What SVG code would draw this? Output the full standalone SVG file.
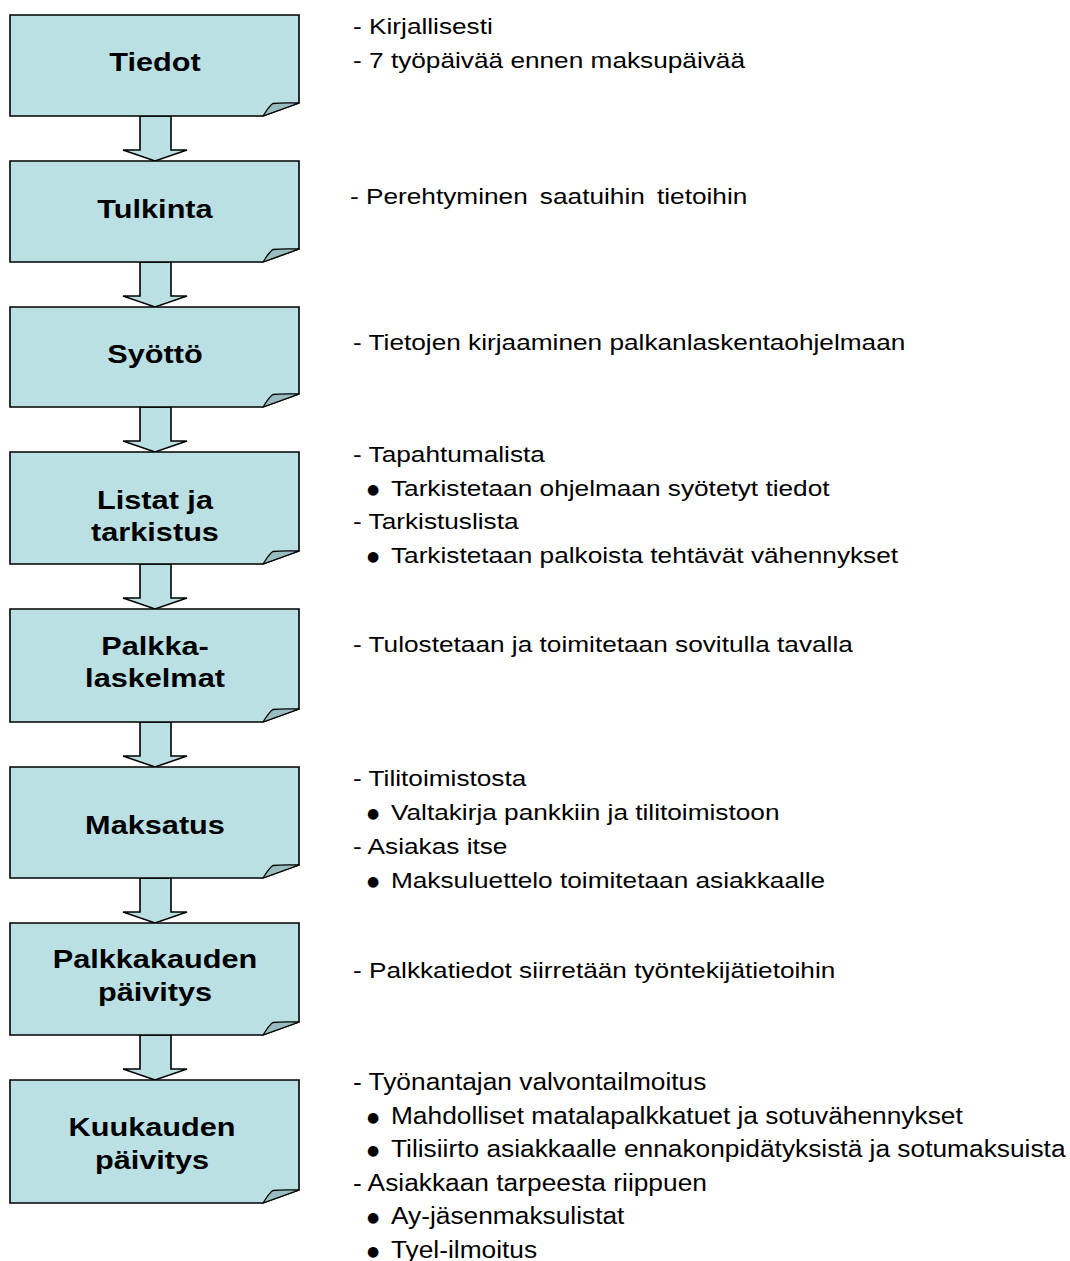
<svg xmlns="http://www.w3.org/2000/svg" width="1070" height="1261" viewBox="0 0 1070 1261">
<style>
.box{fill:#bbe0e3;stroke:#000;stroke-width:1.6;stroke-linejoin:miter}
.flap{fill:#98bcbf;stroke:#000;stroke-width:1.3;stroke-linejoin:round}
.arrow{fill:#bbe0e3;stroke:#000;stroke-width:1.6;stroke-linejoin:miter}
.lbl{font-family:"Liberation Sans",Arial,sans-serif;font-weight:bold;font-size:26px;fill:#000;text-anchor:middle}
.note{font-family:"Liberation Sans",Arial,sans-serif;font-size:21.5px;fill:#000}
.note2{font-family:"Liberation Sans",Arial,sans-serif;font-size:23.5px;fill:#000}
.bul{font-family:"DejaVu Sans",sans-serif;font-size:14px;fill:#000;text-anchor:middle}
</style>
<rect width="1070" height="1261" fill="#fff"/>
<g id="connectors">
<polygon class="arrow" points="140,116 171,116 171,150 187,150 155,161 123,150 140,150"/>
<polygon class="arrow" points="140,262 171,262 171,296 187,296 155,307 123,296 140,296"/>
<polygon class="arrow" points="140,407 171,407 171,441 187,441 155,452 123,441 140,441"/>
<polygon class="arrow" points="140,564 171,564 171,598 187,598 155,609 123,598 140,598"/>
<polygon class="arrow" points="140,722 171,722 171,756 187,756 155,767 123,756 140,756"/>
<polygon class="arrow" points="140,878 171,878 171,912 187,912 155,923 123,912 140,912"/>
<polygon class="arrow" points="140,1035 171,1035 171,1069 187,1069 155,1080 123,1069 140,1069"/>
</g>
<g id="node-tiedot">
<path class="box" d="M10,15 H299 V103 L263,116 H10 Z"/>
<path class="flap" d="M263,116 C267,110 269,106 273,103.5 C282,102.5 290,103 299,103 Z"/>
<g transform="translate(155 0) scale(1.18 1)"><text class="lbl" x="0" y="71">Tiedot</text></g>
</g>
<g id="node-tulkinta">
<path class="box" d="M10,161 H299 V249 L263,262 H10 Z"/>
<path class="flap" d="M263,262 C267,256 269,252 273,249.5 C282,248.5 290,249 299,249 Z"/>
<g transform="translate(155 0) scale(1.18 1)"><text class="lbl" x="0" y="218">Tulkinta</text></g>
</g>
<g id="node-syotto">
<path class="box" d="M10,307 H299 V394 L263,407 H10 Z"/>
<path class="flap" d="M263,407 C267,401 269,397 273,394.5 C282,393.5 290,394 299,394 Z"/>
<g transform="translate(155 0) scale(1.18 1)"><text class="lbl" x="0" y="363">Syöttö</text></g>
</g>
<g id="node-listat">
<path class="box" d="M10,452 H299 V551 L263,564 H10 Z"/>
<path class="flap" d="M263,564 C267,558 269,554 273,551.5 C282,550.5 290,551 299,551 Z"/>
<g transform="translate(155 0) scale(1.18 1)"><text class="lbl" x="0" y="509">Listat ja</text><text class="lbl" x="0" y="541">tarkistus</text></g>
</g>
<g id="node-palkkalaskelmat">
<path class="box" d="M10,609 H299 V709 L263,722 H10 Z"/>
<path class="flap" d="M263,722 C267,716 269,712 273,709.5 C282,708.5 290,709 299,709 Z"/>
<g transform="translate(155 0) scale(1.18 1)"><text class="lbl" x="0" y="655">Palkka-</text><text class="lbl" x="0" y="687">laskelmat</text></g>
</g>
<g id="node-maksatus">
<path class="box" d="M10,767 H299 V865 L263,878 H10 Z"/>
<path class="flap" d="M263,878 C267,872 269,868 273,865.5 C282,864.5 290,865 299,865 Z"/>
<g transform="translate(155 0) scale(1.18 1)"><text class="lbl" x="0" y="834">Maksatus</text></g>
</g>
<g id="node-palkkakauden">
<path class="box" d="M10,923 H299 V1022 L263,1035 H10 Z"/>
<path class="flap" d="M263,1035 C267,1029 269,1025 273,1022.5 C282,1021.5 290,1022 299,1022 Z"/>
<g transform="translate(155 0) scale(1.18 1)"><text class="lbl" x="0" y="968">Palkkakauden</text><text class="lbl" x="0" y="1001">päivitys</text></g>
</g>
<g id="node-kuukauden">
<path class="box" d="M10,1080 H299 V1190 L263,1203 H10 Z"/>
<path class="flap" d="M263,1203 C267,1197 269,1193 273,1190.5 C282,1189.5 290,1190 299,1190 Z"/>
<g transform="translate(152 0) scale(1.18 1)"><text class="lbl" x="0" y="1136">Kuukauden</text><text class="lbl" x="0" y="1169">päivitys</text></g>
</g>
<g id="notes">
<g transform="translate(353 0) scale(1.22 1)">
<text class="note" x="0" y="34">- Kirjallisesti</text>
<text class="note" x="0" y="68">- 7 työpäivää ennen maksupäivää</text>
<text class="note" x="-2.5" y="204">- Perehtyminen<tspan word-spacing="4"> saatuihin tietoihin</tspan></text>
<text class="note" x="0" y="350">- Tietojen kirjaaminen palkanlaskentaohjelmaan</text>
<text class="note" x="0" y="462">- Tapahtumalista</text>
<text class="note" x="31.1" y="496">Tarkistetaan ohjelmaan syötetyt tiedot</text>
<text class="note" x="0" y="529">- Tarkistuslista</text>
<text class="note" x="31.1" y="563">Tarkistetaan palkoista tehtävät vähennykset</text>
<text class="note" x="0" y="652">- Tulostetaan ja toimitetaan sovitulla tavalla</text>
<text class="note" x="0" y="786">- Tilitoimistosta</text>
<text class="note" x="31.1" y="820">Valtakirja pankkiin ja tilitoimistoon</text>
<text class="note" x="0" y="854">- Asiakas itse</text>
<text class="note" x="31.1" y="888">Maksuluettelo toimitetaan asiakkaalle</text>
<text class="note" x="0" y="978">- Palkkatiedot siirretään työntekijätietoihin</text>
</g>
<g transform="translate(353 0) scale(1.12 1)">
<text class="note2" x="0" y="1090">- Työnantajan valvontailmoitus</text>
<text class="note2" x="33.9" y="1124">Mahdolliset matalapalkkatuet ja sotuvähennykset</text>
<text class="note2" x="33.9" y="1157">Tilisiirto asiakkaalle ennakonpidätyksistä ja sotumaksuista</text>
<text class="note2" x="0" y="1191">- Asiakkaan tarpeesta riippuen</text>
<text class="note2" x="33.9" y="1224">Ay-jäsenmaksulistat</text>
<text class="note2" x="33.9" y="1258">Tyel-ilmoitus</text>
</g>
<text class="bul" x="373" y="494">●</text>
<text class="bul" x="373" y="561">●</text>
<text class="bul" x="373" y="818">●</text>
<text class="bul" x="373" y="886">●</text>
<text class="bul" x="373" y="1122">●</text>
<text class="bul" x="373" y="1155">●</text>
<text class="bul" x="373" y="1222">●</text>
<text class="bul" x="373" y="1256">●</text>
</g>
</svg>
